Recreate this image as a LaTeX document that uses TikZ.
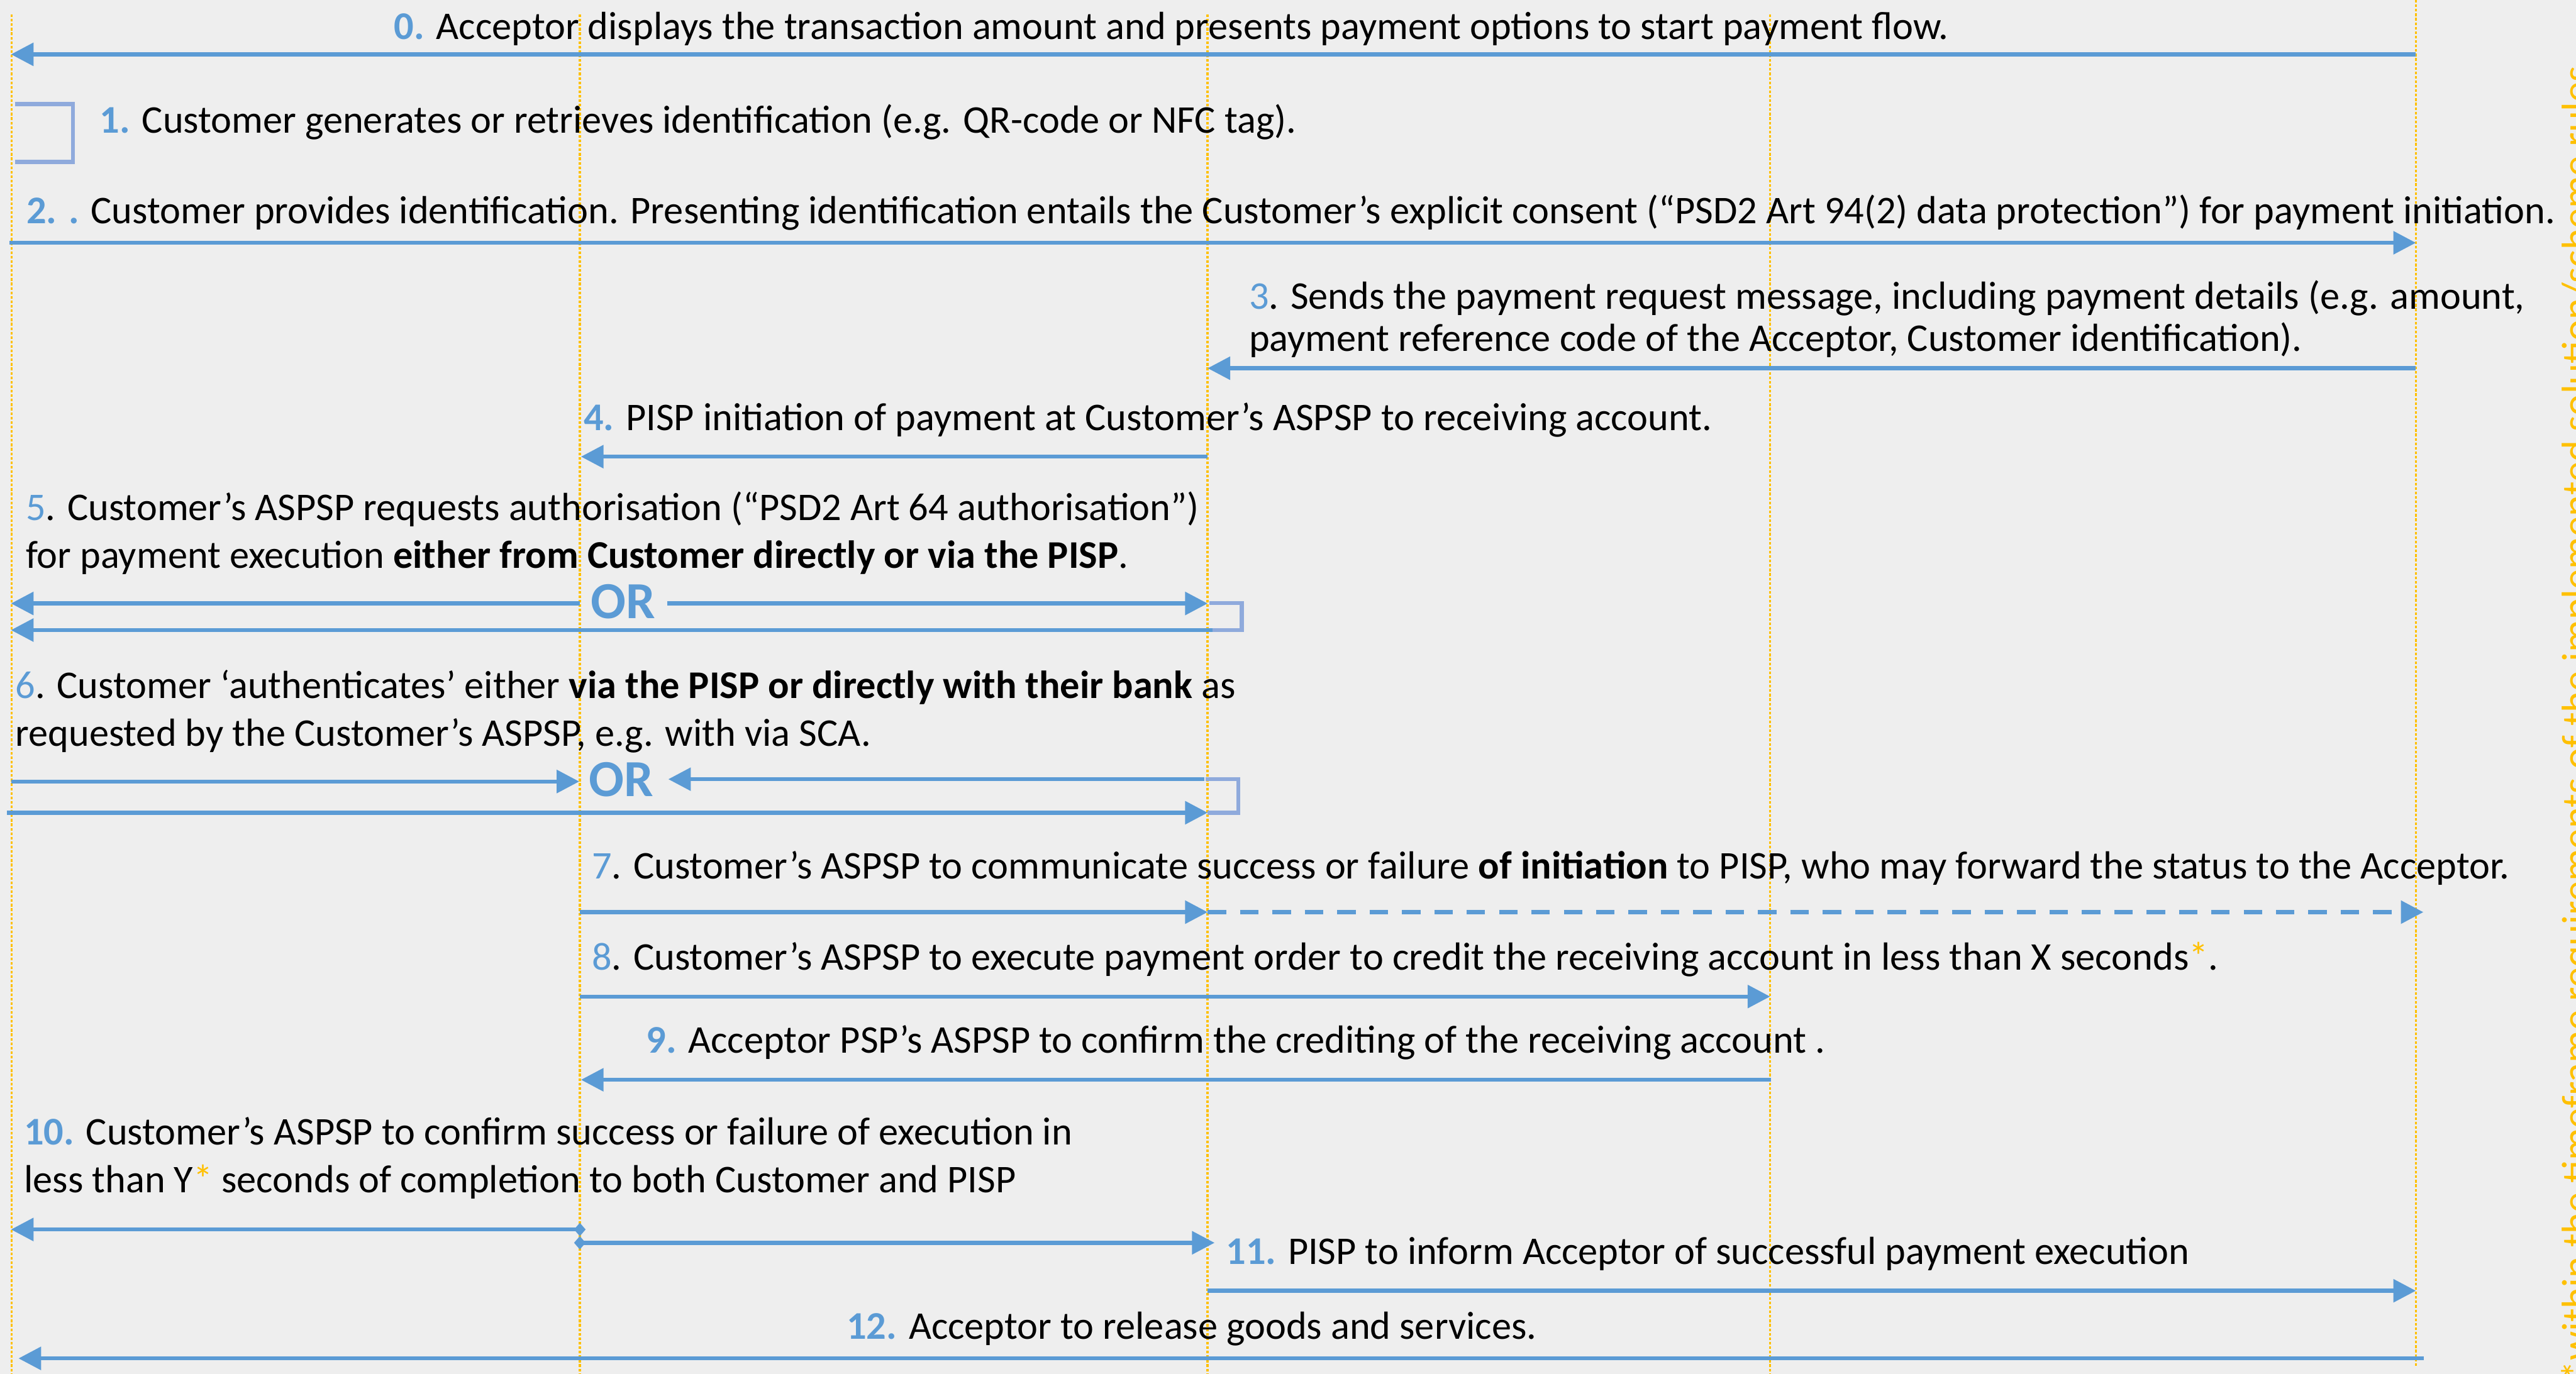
\documentclass[tikz,border=0pt]{standalone}
\usepackage{fontspec}
\setmainfont{Carlito}
\usepackage{tikz}
\usetikzlibrary{arrows.meta}

\definecolor{bgcol}{RGB}{238,238,238}
\definecolor{stepblue}{RGB}{91,155,213}
\definecolor{loopblue}{RGB}{143,170,220}
\definecolor{lifegold}{RGB}{255,192,0}

\newcommand{\stepno}[1]{\textcolor{stepblue}{\bfseries #1}}
\newcommand{\stepnr}[1]{\textcolor{stepblue}{#1}}
\newcommand{\gstar}{\textcolor{lifegold}{*}}

\begin{document}
\begin{tikzpicture}[>={Triangle[length=3.9mm,width=3.9mm]}]
  \tikzstyle{lifeline}=[draw=lifegold,line width=1.1pt,dash pattern=on 1.3pt off 0.9pt]
  \tikzstyle{msg}=[draw=stepblue,line width=2pt,->]
  \tikzstyle{fwd}=[msg,dash pattern=on 0.32cm off 0.24cm]
  \tikzstyle{both}=[draw=stepblue,line width=2pt,
                    arrows={Diamond[length=2mm,width=2.3mm]-Triangle[length=3.9mm,width=3.9mm]}]
  \tikzstyle{self}=[draw=loopblue,line width=2pt]
  % multi-line texts sit on the baseline of their last line
  \tikzstyle{txt}=[inner sep=0pt,anchor=base west,align=left,
                   font=\fontsize{19.3}{23.6}\selectfont]
  \tikzstyle{ortxt}=[inner sep=0pt,text=stepblue,font=\fontsize{25.6}{30}\selectfont\bfseries]
  \tikzstyle{note}=[inner sep=0pt,text=lifegold,rotate=90,anchor=base east,
                    font=\fontsize{20}{24}\selectfont]

  \useasboundingbox (0,0) rectangle (44.56,-23.77);
  \clip (0,0) rectangle (44.56,-23.77);
  \fill[bgcol] (0,0) rectangle (44.56,-23.77);

  % lifelines: Customer, Customer's ASPSP, PISP, Acceptor PSP's ASPSP, Acceptor
  \coordinate (cust)   at (0.20,-0.25);  \coordinate (cust end)   at (0.20,-23.77);
  \coordinate (aspsp)  at (10.03,-0.25); \coordinate (aspsp end)  at (10.03,-23.77);
  \coordinate (pisp)   at (20.89,-0.25); \coordinate (pisp end)   at (20.89,-23.77);
  \coordinate (accpsp) at (30.62,-0.25); \coordinate (accpsp end) at (30.62,-23.77);
  \coordinate (acc)    at (41.79,0);     \coordinate (acc end)    at (41.79,-23.65);
  \draw[lifeline] (cust) -- (cust end);
  \draw[lifeline] (aspsp) -- (aspsp end);
  \draw[lifeline] (pisp) -- (pisp end);
  \draw[lifeline] (accpsp) -- (accpsp end);
  \draw[lifeline] (acc) -- (acc end);

  % 0 - 2
  \node[txt] (t0) at (6.81,-0.68) {\stepno{0.} Acceptor displays the transaction amount and presents payment options to start payment flow.};
  \coordinate (m0s) at (41.79,-0.94); \coordinate (m0e) at (0.19,-0.94);
  \draw[msg] (m0s) -- (m0e);

  \node[txt] (t1) at (1.72,-2.30) {\stepno{1.} Customer generates or retrieves identification (e.g. QR-code or NFC tag).};
  \coordinate (s1a) at (0.26,-1.80); \coordinate (s1b) at (1.26,-1.80);
  \coordinate (s1c) at (1.26,-2.80); \coordinate (s1d) at (0.26,-2.80);
  \draw[self] (s1a) -- (s1b) -- (s1c) -- (s1d);

  \node[txt] (t2) at (0.45,-3.87) {\stepno{2. .} Customer provides identification. Presenting identification entails the Customer’s explicit consent (“PSD2 Art 94(2) data protection”) for payment initiation.};
  \coordinate (m2s) at (0.16,-4.20); \coordinate (m2e) at (41.79,-4.20);
  \draw[msg] (m2s) -- (m2e);

  % 3 - 4
  \node[txt] (t3) at (21.60,-6.08) {\stepnr{3}. Sends the payment request message, including payment details (e.g. amount,\\[-0.1cm]payment reference code of the Acceptor, Customer identification).};
  \coordinate (m3s) at (41.79,-6.37); \coordinate (m3e) at (20.89,-6.37);
  \draw[msg] (m3s) -- (m3e);

  \node[txt] (t4) at (10.09,-7.45) {\stepno{4.} PISP initiation of payment at Customer’s ASPSP to receiving account.};
  \coordinate (m4s) at (20.89,-7.90); \coordinate (m4e) at (10.05,-7.90);
  \draw[msg] (m4s) -- (m4e);

  % 5: authorisation request, two ways
  \node[txt] (t5) at (0.44,-9.83) {\stepnr{5}. Customer’s ASPSP requests authorisation (“PSD2 Art 64 authorisation”)\\for payment execution \textbf{either from Customer directly or via the PISP}.};
  \node[ortxt] (or5) at (10.78,-10.41) {OR};
  \coordinate (m5as) at (10.03,-10.44); \coordinate (m5ae) at (0.19,-10.44);
  \coordinate (m5bs) at (11.54,-10.44); \coordinate (m5be) at (20.89,-10.44);
  \draw[msg] (m5as) -- (m5ae);
  \draw[msg] (m5bs) -- (m5be);
  \coordinate (s5a) at (20.92,-10.43); \coordinate (s5b) at (21.48,-10.43);
  \coordinate (s5c) at (21.48,-10.90); \coordinate (s5d) at (20.97,-10.90);
  \draw[self] (s5a) -- (s5b) -- (s5c) -- (s5d);
  \coordinate (m5ce) at (0.19,-10.90);
  \draw[msg] (s5d) -- (m5ce);

  % 6: authentication, two ways
  \node[txt] (t6) at (0.26,-12.91) {\stepnr{6}. Customer ‘authenticates’ either \textbf{via the PISP or directly with their bank} as\\requested by the Customer’s ASPSP, e.g. with via SCA.};
  \node[ortxt] (or6) at (10.75,-13.49) {OR};
  \coordinate (m6as) at (0.20,-13.52); \coordinate (m6ae) at (10.02,-13.52);
  \coordinate (m6bs) at (20.83,-13.48); \coordinate (m6be) at (11.56,-13.48);
  \draw[msg] (m6as) -- (m6ae);
  \draw[msg] (m6bs) -- (m6be);
  \coordinate (s6a) at (20.85,-13.48); \coordinate (s6b) at (21.42,-13.48);
  \coordinate (s6c) at (21.42,-14.06); \coordinate (s6d) at (20.89,-14.06);
  \draw[self] (s6a) -- (s6b) -- (s6c) -- (s6d);
  \coordinate (m6cs) at (0.12,-14.06);
  \draw[msg] (m6cs) -- (s6d);

  % 7 - 9
  \node[txt] (t7) at (10.23,-15.20) {\stepnr{7}. Customer’s ASPSP to communicate success or failure \textbf{of initiation} to PISP, who may forward the status to the Acceptor.};
  \coordinate (m7s) at (10.03,-15.78); \coordinate (m7m) at (20.89,-15.78);
  \coordinate (m7e) at (41.92,-15.78);
  \draw[msg] (m7s) -- (m7m);
  \draw[fwd] (m7m) -- (m7e);

  \node[txt] (t8) at (10.23,-16.78) {\stepnr{8}. Customer’s ASPSP to execute payment order to credit the receiving account in less than X seconds\gstar.};
  \coordinate (m8s) at (10.03,-17.24); \coordinate (m8e) at (30.62,-17.24);
  \draw[msg] (m8s) -- (m8e);

  \node[txt] (t9) at (11.17,-18.22) {\stepno{9.} Acceptor PSP’s ASPSP to confirm the crediting of the receiving account .};
  \coordinate (m9s) at (30.64,-18.68); \coordinate (m9e) at (10.05,-18.68);
  \draw[msg] (m9s) -- (m9e);

  % 10 - 12
  \node[txt] (t10) at (0.41,-20.63) {\stepno{10.} Customer’s ASPSP to confirm success or failure of execution in\\less than Y\gstar{} seconds of completion to both Customer and PISP};
  \coordinate (m10as) at (10.13,-21.27); \coordinate (m10ae) at (0.19,-21.27);
  \coordinate (m10bs) at (9.93,-21.50);  \coordinate (m10be) at (21.01,-21.50);
  \draw[both] (m10as) -- (m10ae);
  \draw[both] (m10bs) -- (m10be);

  \node[txt] (t11) at (21.20,-21.87) {\stepno{11.} PISP to inform Acceptor of successful payment execution};
  \coordinate (m11s) at (20.89,-22.33); \coordinate (m11e) at (41.79,-22.33);
  \draw[msg] (m11s) -- (m11e);

  \node[txt] (t12) at (14.64,-23.17) {\stepno{12.} Acceptor to release goods and services.};
  \coordinate (m12s) at (41.93,-23.50); \coordinate (m12e) at (0.32,-23.50);
  \draw[msg] (m12s) -- (m12e);

  % side remark, cut by the border
  \node[note] (rules) at (44.80,-1.13) {*within the timeframe requirements of the implemented solution/scheme rules};
\end{tikzpicture}
\end{document}
